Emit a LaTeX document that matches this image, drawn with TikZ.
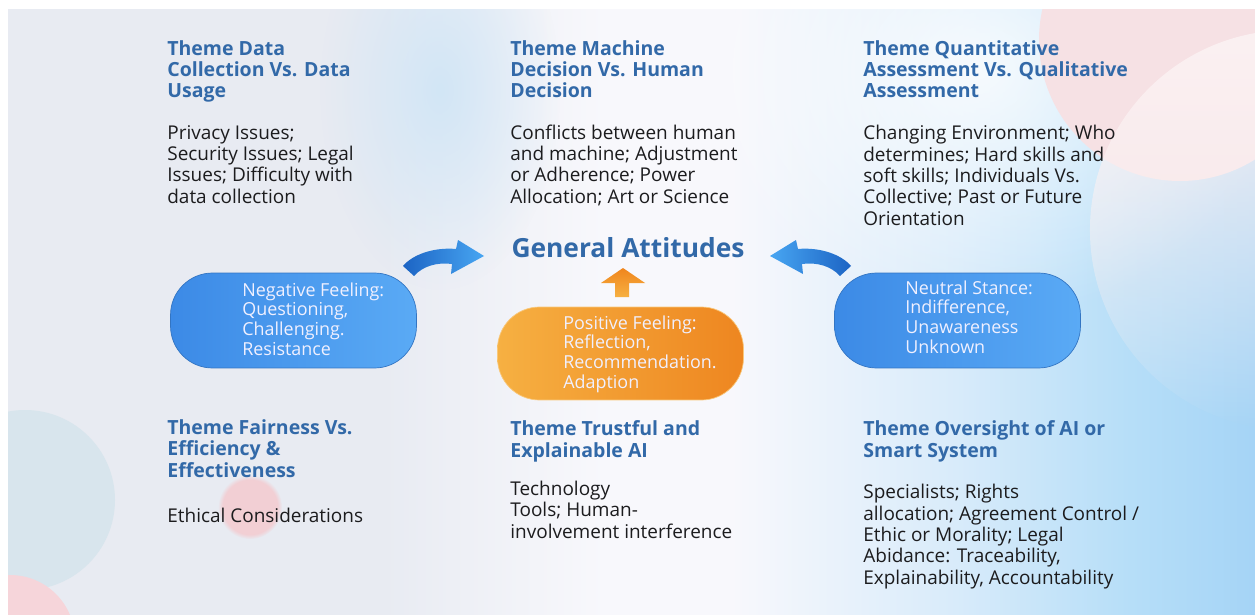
\documentclass[tikz,border=0pt]{standalone}
\usepackage{fontspec}
\setmainfont{Open Sans}
\usetikzlibrary{fadings}

\definecolor{headblue}{RGB}{50,105,168}
\definecolor{bodytext}{RGB}{28,28,30}
\definecolor{bgleft}{RGB}{232,235,242}
\definecolor{bgmid}{RGB}{248,248,252}
\definecolor{bgpale}{RGB}{216,235,250}
\definecolor{bgblue}{RGB}{182,222,248}
\definecolor{bgright}{RGB}{165,212,246}
\definecolor{bgglow}{RGB}{210,230,246}
\definecolor{pinkdark}{RGB}{246,225,228}
\definecolor{pinklight}{RGB}{251,241,242}
\definecolor{bluelight}{RGB}{90,170,245}
\definecolor{bluedark}{RGB}{60,138,230}
\definecolor{orangelight}{RGB}{246,176,66}
\definecolor{orangedark}{RGB}{238,134,32}
\definecolor{arrowdark}{RGB}{28,100,196}
\definecolor{arrowlight}{RGB}{72,166,242}

% the path is fitted to 25bp..75bp of the shading
\pgfdeclarehorizontalshading{backdrop}{100bp}{color(0bp)=(bgleft); color(40bp)=(bgleft);
  color(49bp)=(bgmid); color(54bp)=(bgmid); color(63bp)=(bgpale); color(70bp)=(bgblue);
  color(75bp)=(bgright); color(100bp)=(bgright)}
\tikzfading[name=fade down, top color=transparent!0, bottom color=transparent!100]
\tikzfading[name=soft spot, inner color=transparent!0, outer color=transparent!100]

\tikzset{
  head/.style={anchor=base west, align=left, inner sep=0pt, text=headblue,
    font=\bfseries\fontsize{11.1}{12.1}\selectfont},
  body/.style={anchor=base west, align=left, inner sep=0pt, text=bodytext,
    font=\fontsize{10.8}{12.1}\selectfont},
  pill/.style={rounded corners=0.84cm, minimum width=4.92cm, minimum height=1.9cm,
    inner sep=0pt},
  pilltext/.style={anchor=base west, align=left, inner sep=0pt, text=white!94!blue,
    font=\fontsize{10.2}{11.1}\selectfont},
}

\begin{document}
\begin{tikzpicture}[x=0.02cm, y=-0.02cm]
  \useasboundingbox (0,0) rectangle (1255,615);

  % backdrop
  \shade[shading=backdrop] (8,10) rectangle (1255,615);
  \begin{scope}
    \clip (8,10) rectangle (1255,615);
    \fill[white, opacity=0.8, path fading=soft spot] (980,70) ellipse (300 and 250);
    \fill[bgglow, path fading=soft spot] (440,90) ellipse (120 and 200);
    \fill[pinkdark] (1180,40) circle (141);
    \fill[pinklight, path fading=fade down] (1290,230) circle (200);
    \fill[color={rgb,255:red,216;green,229;blue,237}] (25,500) circle (90);
    \fill[color={rgb,255:red,246;green,213;blue,218}] (10,640) circle (65);
    \fill[color={rgb,255:red,242;green,207;blue,212}, path fading=circle with fuzzy edge 15 percent]
      (250,507) circle (32);
  \end{scope}

  % themes (each node sits on the baseline of its last line)
  \node[head] (datacoll) at (167,98) {Theme Data\\Collection Vs. Data\\Usage};
  \node[body] (datacolltxt) at (167,203) {Privacy Issues;\\Security Issues; Legal\\Issues; Difficulty with\\data collection};
  \node[head] (machdec) at (510,98) {Theme Machine\\Decision Vs. Human\\Decision};
  \node[body] (machdectxt) at (510,203) {Conflicts between human\\and machine; Adjustment\\or Adherence; Power\\Allocation; Art or Science};
  \node[head] (quantqual) at (863,98) {Theme Quantitative\\Assessment Vs. Qualitative\\Assessment};
  \node[body] (quantqualtxt) at (863,225) {Changing Environment; Who\\determines; Hard skills and\\soft skills; Individuals Vs.\\Collective; Past or Future\\Orientation};

  \node[head] (fairness) at (167,477) {Theme Fairness Vs.\\Efficiency \&\\Effectiveness};
  \node[body] (fairnesstxt) at (167,522) {Ethical Considerations};
  \node[head] (trustful) at (510,457) {Theme Trustful and\\Explainable AI};
  \node[body] (trustfultxt) at (510,538) {Technology\\Tools; Human-\\involvement interference};
  \node[head] (oversight) at (863,457) {Theme Oversight of AI or\\Smart System};
  \node[body] (oversighttxt) at (863,584) {Specialists; Rights\\allocation; Agreement Control /\\Ethic or Morality; Legal\\Abidance: Traceability,\\Explainability, Accountability};

  % centre
  \node[anchor=base, inner sep=0pt, text=headblue, font=\bfseries\fontsize{15}{17}\selectfont]
    (attitudes) at (628,257) {General Attitudes};

  \node[pill, left color=bluedark, right color=bluelight, draw=bluedark!85!black, line width=0.4pt]
    (negfeel) at (293.5,320.5) {};
  \node[pilltext] (negtxt) at (242,355) {Negative Feeling:\\Questioning,\\Challenging.\\Resistance};
  \node[pill, left color=bluedark, right color=bluelight, draw=bluedark!85!black, line width=0.4pt]
    (neutral) at (957.5,320.5) {};
  \node[pilltext] (neutxt) at (905,353) {Neutral Stance:\\Indifference,\\Unawareness\\Unknown};
  \node[pill, minimum height=1.86cm, left color=orangelight, right color=orangedark,
    draw=orangelight!70!white, line width=0.4pt] (posfeel) at (620.5,353.5) {};
  \node[pilltext] (postxt) at (563,388) {Positive Feeling:\\Reflection,\\Recommendation.\\Adaption};

  % arrows into the title
  \shade[top color=orangedark!90!orange, bottom color=orangelight]
    (615,297) -- (615,283) -- (601,283) -- (623,268) -- (645,283) -- (629,283) -- (629,297) -- cycle;
  \shade[left color=arrowdark, right color=arrowlight]
    (403,266) .. controls (413,254) and (435,247) .. (456,249) -- (458,240) -- (484,256)
    -- (451,274) -- (452,264) .. controls (437,262) and (423,266) .. (414,276) -- cycle;
  \shade[left color=arrowlight, right color=arrowdark]
    (851,266) .. controls (841,254) and (819,247) .. (798,249) -- (796,240) -- (770,256)
    -- (803,274) -- (802,264) .. controls (817,262) and (831,266) .. (840,276) -- cycle;
\end{tikzpicture}
\end{document}
